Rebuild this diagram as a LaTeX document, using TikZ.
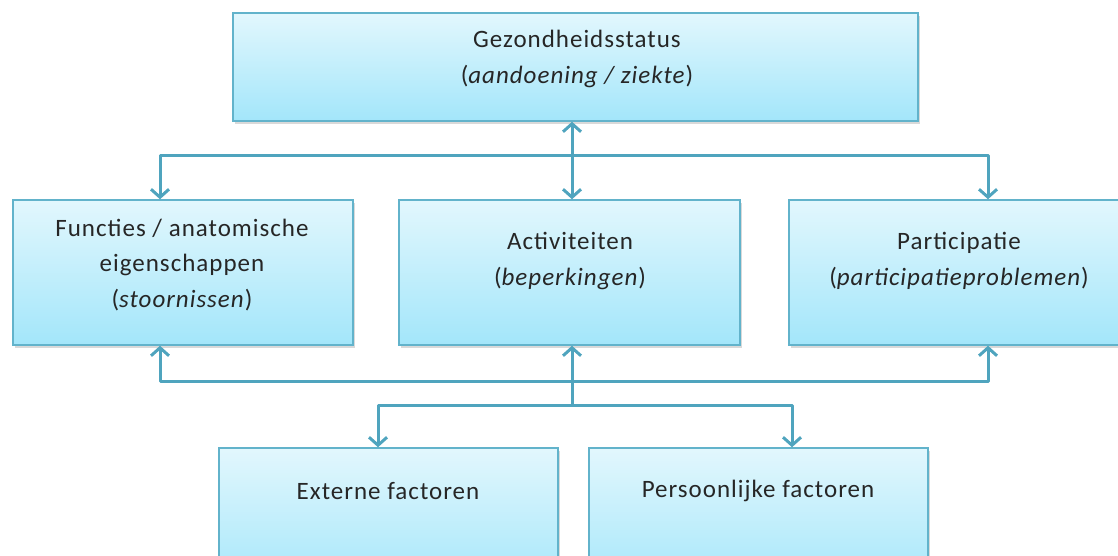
\documentclass[tikz,border=0pt]{standalone}
\usepackage{fontspec}
\setmainfont{Carlito}
\usetikzlibrary{arrows.meta,shadows}
\definecolor{boxline}{HTML}{62B3CB}
\definecolor{boxtop}{HTML}{E2F7FD}
\definecolor{boxbot}{HTML}{A3E6FA}
\definecolor{conn}{HTML}{4FA4BE}
\tikzset{
  box/.style={draw=boxline, line width=1.5pt, top color=boxtop, bottom color=boxbot,
    rectangle, inner sep=0pt,
    drop shadow={shadow xshift=2pt, shadow yshift=-3pt, opacity=0.25, fill=black!60}},
  txt/.style={align=center, font=\fontsize{25}{35.5}\selectfont\addfontfeatures{LetterSpace=4}, text=black!85, inner sep=0pt},
  conn/.style={draw=conn, line width=3pt, line cap=round, line join=round},
  barb/.tip={Straight Barb[length=8pt,width=18pt,line width=3pt]},
  tip/.style={-barb},
  both/.style={barb-barb},
}
\begin{document}
\begin{tikzpicture}[x=1pt,y=-1pt]
\useasboundingbox (0,0) rectangle (1118,555);
\clip (0,0) rectangle (1118,555);
% boxes
\node[box, minimum width=685pt, minimum height=108pt] (gez) at (575.5,67) {};
\node[box, minimum width=340pt, minimum height=145pt] (fun) at (183,272.5) {};
\node[box, minimum width=341pt, minimum height=145pt] (act) at (569.5,272.5) {};
\node[box, minimum width=330pt, minimum height=145pt] (par) at (954,272.5) {};
\node[box, minimum width=339pt, minimum height=145pt] (ext) at (388.5,520.5) {};
\node[box, minimum width=339pt, minimum height=145pt] (per) at (758.5,520.5) {};
% texts
\node[txt] (tgez) at (577,59) {Gezondheidsstatus\\(\textit{aandoening / ziekte})};
\node[txt] (tfun) at (182,265) {Functies / anatomische\\eigenschappen\\(\textit{stoornissen})};
\node[txt] (tact) at (570,261) {Activiteiten\\(\textit{beperkingen})};
\node[txt] (tpar) at (959,261) {Participatie\\(\textit{participatieproblemen})};
\node[txt] (text) at (388,491) {Externe factoren};
\node[txt] (tper) at (758,491) {Persoonlijke factoren};
% coordinates
\coordinate (ub) at (572,155);
\coordinate (lb) at (572,381);
\coordinate (br) at (572,405);
% connectors
\draw[conn, both] (gez.south -| ub) -- (act.north -| ub);
\draw[conn, both] (fun.north -| 160,0) -- (160,155) -- (988,155) -- (par.north -| 988,0);
\draw[conn, both] (fun.south -| 160,0) -- (160,381) -- (988,381) -- (par.south -| 988,0);
\draw[conn, tip] (br) -- (act.south -| br);
\draw[conn, both] (ext.north -| 378,0) -- (378,405) -- (792,405) -- (per.north -| 792,0);
\end{tikzpicture}
\end{document}
